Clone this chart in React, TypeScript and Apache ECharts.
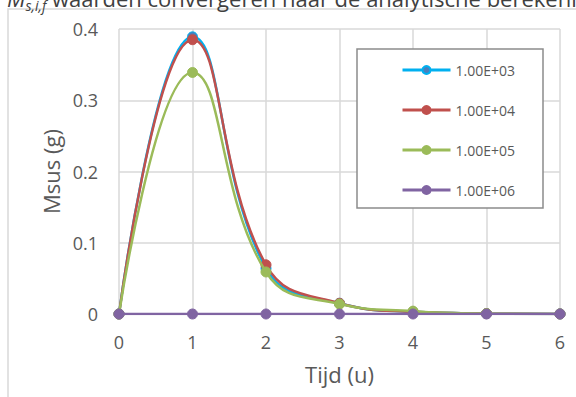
import React, { useEffect, useRef } from "react";
import * as echarts from "echarts";

const times = [0, 1, 2, 3, 4, 5, 6];
const seriesNames = ["1.00E+03", "1.00E+04", "1.00E+05", "1.00E+06"];
const m1e3 = [0, 0.389, 0.064, 0.015, 0.003, 0.0006, 0.0001];
const m1e4 = [0, 0.385, 0.069, 0.015, 0.003, 0.0006, 0.0001];
const m1e5 = [0, 0.339, 0.059, 0.014, 0.004, 0.0006, 0.0001];
const m1e6 = [0, 0, 0, 0, 0, 0, 0];
const yTicks = [0, 0.1, 0.2, 0.3, 0.4];
const headingSymbol = "M";
const headingSub = "s,i,f";
const headingRest = " waarden convergeren naar de analytische berekening";

const FONT = "'Open Sans', 'Noto Sans', sans-serif";

export default function App() {
  const ref = useRef<HTMLDivElement>(null);
  useEffect(() => {
    if (!ref.current) return;
    const chart = echarts.init(ref.current, undefined, { renderer: "svg" });
    const values = [m1e3, m1e4, m1e5, m1e6];
    const lineColors = ["#00B0F0", "#C0504D", "#9BBB59", "#8064A2"];
    const markerFill = ["#4A7EBB", "#C0504D", "#9BBB59", "#8064A2"];
    const markerBorder = ["#00B0F0", "#C0504D", "#9BBB59", "#8064A2"];
    const series = values.map((v, i) => ({
      name: seriesNames[i],
      type: "line",
      data: times.map((t, j) => [t, v[j]]),
      smooth: 0.45,
      symbol: "circle",
      symbolSize: 10,
      showSymbol: true,
      lineStyle: { color: lineColors[i], width: 2.5 },
      itemStyle: { color: markerFill[i], borderColor: markerBorder[i], borderWidth: 1 },
      z: 2 + i,
    }));
    chart.setOption({
      animation: false,
      backgroundColor: "#ffffff",
      textStyle: { fontFamily: FONT },
      grid: { left: 119, right: 16, top: 29, bottom: 83, containLabel: false },
      xAxis: {
        type: "value",
        min: 0,
        max: 6,
        interval: 1,
        name: "Tijd (u)",
        nameLocation: "middle",
        nameGap: 49,
        nameTextStyle: { fontSize: 22, color: "#595959", fontFamily: FONT },
        axisLine: { show: false },
        axisTick: { show: false },
        axisLabel: { fontSize: 18, color: "#595959", margin: 19, fontFamily: FONT },
        splitLine: { show: true, lineStyle: { color: "#D9D9D9", width: 1.5 } },
      },
      yAxis: {
        type: "value",
        min: yTicks[0],
        max: yTicks[yTicks.length - 1],
        interval: 0.1,
        name: "Msus (g)",
        nameLocation: "middle",
        nameGap: 57,
        nameTextStyle: { fontSize: 22, color: "#595959", fontFamily: FONT },
        axisLine: { show: false },
        axisTick: { show: false },
        axisLabel: {
          fontSize: 18,
          color: "#595959",
          margin: 21,
          fontFamily: FONT,
          formatter: (v: number) => (v === 0 ? "0" : String(Math.round(v * 10) / 10)),
        },
        splitLine: { show: true, lineStyle: { color: "#D9D9D9", width: 1.5 } },
      },
      legend: {
        orient: "vertical",
        left: 396,
        top: 58,
        z: 20,
        itemWidth: 48,
        itemHeight: 10,
        itemGap: 26,
        lineStyle: { width: 3 },
        textStyle: { fontSize: 14, color: "#595959", fontFamily: FONT },
        data: seriesNames,
      },
      graphic: [
        {
          type: "rect",
          z: -10,
          silent: true,
          shape: { x: 8, y: 9, width: 620, height: 420 },
          style: { fill: "none", stroke: "#D9D9D9", lineWidth: 1.5 },
        },
        {
          type: "text",
          z: 10,
          silent: true,
          x: 7,
          y: -2,
          style: {
            text: "{m|" + headingSymbol + "}{s|" + headingSub + "}{r|" + headingRest + "}",
            verticalAlign: "middle",
            rich: {
              m: { fontSize: 22, fontStyle: "italic", fill: "#404040", fontFamily: FONT },
              s: { fontSize: 14, fontStyle: "italic", fill: "#404040", fontFamily: FONT, padding: [14, 0, 0, 0] },
              r: { fontSize: 22, fill: "#404040", fontFamily: FONT },
            },
          },
        },
        {
          type: "rect",
          z: 5,
          silent: true,
          shape: { x: 357, y: 49, width: 186, height: 159 },
          style: { fill: "#ffffff", stroke: "#8C8C8C", lineWidth: 1.5 },
        },
      ],
      series,
    });
    return () => chart.dispose();
  }, []);
  return (
    <div
      ref={ref}
      style={{ position: "fixed", left: 0, top: 0, width: 576, height: 397, background: "#fff" }}
    />
  );
}
